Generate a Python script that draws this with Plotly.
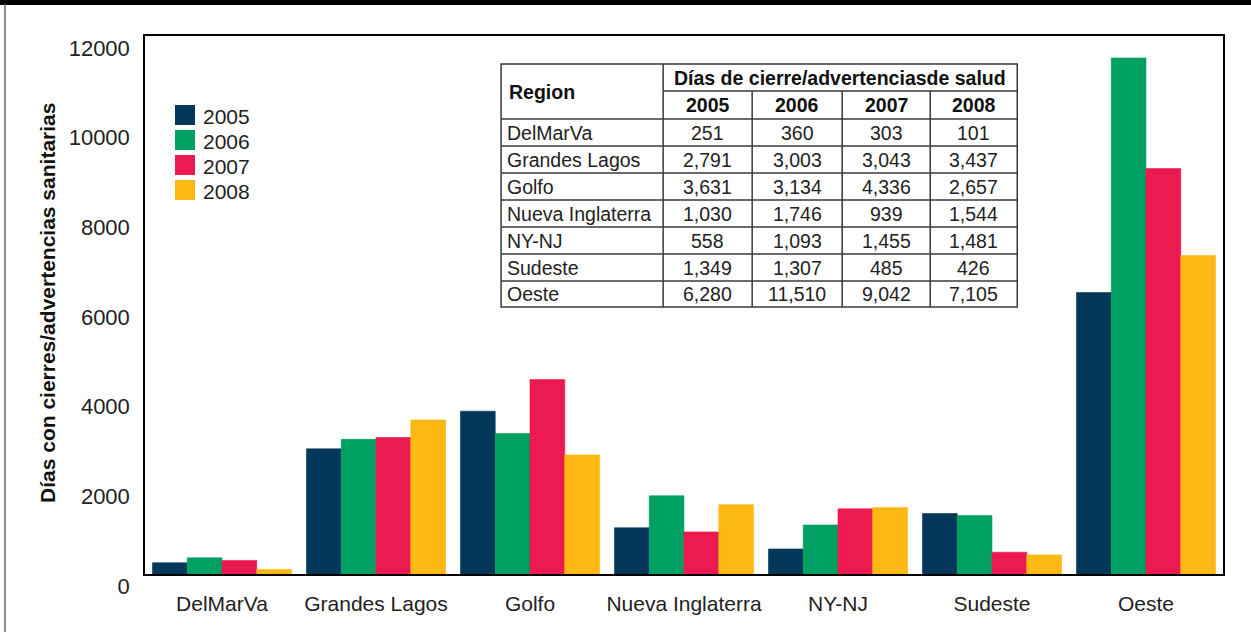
import plotly.graph_objects as go

regions = ["DelMarVa", "Grandes Lagos", "Golfo", "Nueva Inglaterra", "NY-NJ", "Sudeste", "Oeste"]
table_regions = ["DelMarVa", "Grandes Lagos", "Golfo", "Nueva Inglaterra", "NY-NJ", "Sudeste", "Oeste"]
years = ["2005", "2006", "2007", "2008"]
v2005 = [251, 2791, 3631, 1030, 558, 1349, 6280]
v2006 = [360, 3003, 3134, 1746, 1093, 1307, 11510]
v2007 = [303, 3043, 4336, 939, 1455, 485, 9042]
v2008 = [101, 3437, 2657, 1544, 1481, 426, 7105]
y_ticks = [0, 2000, 4000, 6000, 8000, 10000, 12000]
colors = ["#03385A", "#00A063", "#EC1A50", "#FDB813"]

series = [v2005, v2006, v2007, v2008]

W, H = 1251, 632
L, R, T, B = 145, 1222.7, 36, 574
PW, PH = R - L, B - T


def px(x):
    return (x - L) / PW


def py(y):
    return (B - y) / PH


FONT = "Liberation Sans, Arial, sans-serif"

fig = go.Figure()
for yr, vals, c in zip(years, series, colors):
    fig.add_trace(go.Bar(x=regions, y=vals, name=yr, marker=dict(color=c, line=dict(width=0.6, color=c)),
                         showlegend=False))

shapes = []
annotations = []

# outer frame
shapes.append(dict(type="rect", xref="paper", yref="paper", x0=px(-2), x1=px(W + 2), y0=py(-2), y1=py(5),
                   fillcolor="black", line=dict(width=0), layer="above"))
shapes.append(dict(type="line", xref="paper", yref="paper", x0=px(5), x1=px(5), y0=py(4), y1=py(H),
                   line=dict(color="#666", width=1.5)))

# legend (drawn manually: squares + labels)
for k, (yr, c) in enumerate(zip(years, colors)):
    yc = 115 + 25 * k
    shapes.append(dict(type="rect", xref="paper", yref="paper", x0=px(175), x1=px(195), y0=py(yc - 10), y1=py(yc + 10),
                       fillcolor=c, line=dict(width=0)))
    annotations.append(dict(text=yr, xref="paper", yref="paper", x=px(201), y=py(yc + 1), xanchor="left", yanchor="middle",
                            showarrow=False, font=dict(family=FONT, size=21, color="#222")))

# table geometry
col_x = [501, 663, 752, 842, 930, 1017]
row_y = [64, 91, 119] + [119 + 27 * (i + 1) for i in range(7)]
row_y[-1] = 307
tx0, tx1, ty0, ty1 = col_x[0], col_x[-1], row_y[0], row_y[-1]
lc = dict(color="#3a3a3a", width=1.5)
shapes.append(dict(type="rect", xref="paper", yref="paper", x0=px(tx0), x1=px(tx1), y0=py(ty0), y1=py(ty1),
                   fillcolor="white", line=lc, layer="above"))
shapes.append(dict(type="line", xref="paper", yref="paper", x0=px(col_x[1]), x1=px(tx1), y0=py(row_y[1]), y1=py(row_y[1]), line=lc, layer="above"))
for yy in row_y[2:-1]:
    shapes.append(dict(type="line", xref="paper", yref="paper", x0=px(tx0), x1=px(tx1), y0=py(yy), y1=py(yy), line=lc, layer="above"))
shapes.append(dict(type="line", xref="paper", yref="paper", x0=px(col_x[1]), x1=px(col_x[1]), y0=py(ty0), y1=py(ty1), line=lc, layer="above"))
for xx in col_x[2:-1]:
    shapes.append(dict(type="line", xref="paper", yref="paper", x0=px(xx), x1=px(xx), y0=py(row_y[1]), y1=py(ty1), line=lc, layer="above"))

TF = 19.5
annotations.append(dict(text="<b>Region</b>", xref="paper", yref="paper", x=px(tx0 + 6), y=py((row_y[0] + row_y[2]) / 2),
                        xanchor="left", yanchor="middle", showarrow=False, font=dict(family=FONT, size=TF, color="#111")))
annotations.append(dict(text="<b>Días de cierre/advertenciasde salud</b>", xref="paper", yref="paper",
                        x=px((col_x[1] + col_x[-1]) / 2), y=py((row_y[0] + row_y[1]) / 2),
                        xanchor="center", yanchor="middle", showarrow=False, font=dict(family=FONT, size=TF, color="#111")))
for j, yr in enumerate(years):
    annotations.append(dict(text=f"<b>{yr}</b>", xref="paper", yref="paper",
                            x=px((col_x[j + 1] + col_x[j + 2]) / 2), y=py((row_y[1] + row_y[2]) / 2),
                            xanchor="center", yanchor="middle", showarrow=False, font=dict(family=FONT, size=TF, color="#111")))
for i, reg in enumerate(table_regions):
    yc = py((row_y[i + 2] + row_y[i + 3]) / 2)
    annotations.append(dict(text=reg, xref="paper", yref="paper", x=px(tx0 + 4), y=yc, xanchor="left", yanchor="middle",
                            showarrow=False, font=dict(family=FONT, size=TF, color="#222")))
    for j, vals in enumerate(series):
        annotations.append(dict(text=f"{vals[i]:,}", xref="paper", yref="paper",
                                x=px((col_x[j + 1] + col_x[j + 2]) / 2), y=yc, xanchor="center", yanchor="middle",
                                showarrow=False, font=dict(family=FONT, size=TF, color="#222")))

# y axis title
annotations.append(dict(text="<b>Días con cierres/advertencias sanitarias</b>", xref="paper", yref="paper",
                        x=px(47), y=py(303), textangle=-90, xanchor="center", yanchor="middle", showarrow=False,
                        font=dict(family=FONT, size=21, color="#111")))

fig.update_layout(
    width=W, height=H,
    margin=dict(l=L, r=W - R, t=T, b=H - B, pad=0),
    paper_bgcolor="white", plot_bgcolor="white",
    barmode="group", bargap=0.097, bargroupgap=0,
    font=dict(family=FONT, size=21, color="#222"),
    showlegend=False,
    shapes=shapes, annotations=annotations,
)
fig.update_xaxes(showline=True, linecolor="black", linewidth=1.5, mirror=True, showgrid=False,
                 ticks="", tickfont=dict(family=FONT, size=21, color="#222"), ticklabelstandoff=10)
fig.update_yaxes(range=[0, 12000], tickvals=y_ticks, tickformat="d", showline=True, linecolor="black", linewidth=1.5,
                 mirror=True, showgrid=False, zeroline=False, ticks="", tickfont=dict(family=FONT, size=22, color="#222"),
                 ticklabelshift=12, ticklabelstandoff=9)

fig.write_html("out.html", config={"displayModeBar": False},
               post_script="document.body.style.margin='0px';document.body.style.overflow='hidden';")
